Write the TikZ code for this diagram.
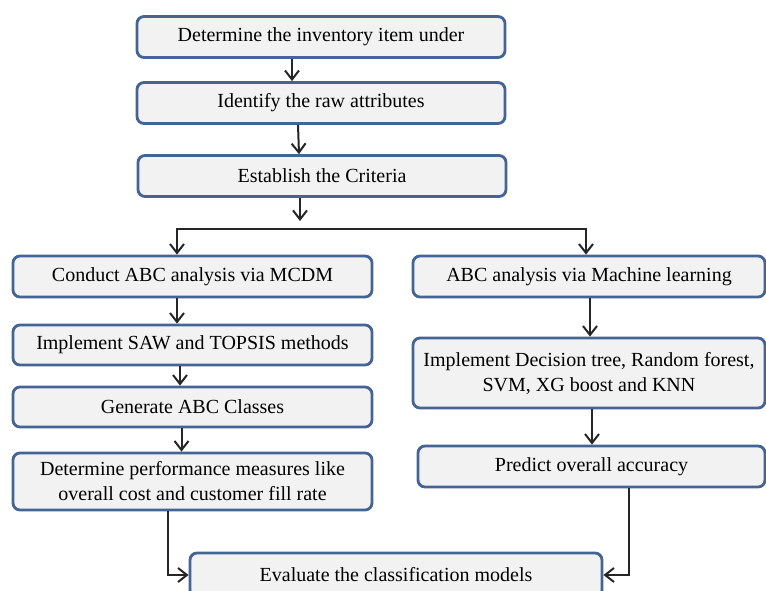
\documentclass[tikz,border=0pt]{standalone}
\usepackage{fontspec}
\setmainfont{Liberation Serif}
\usetikzlibrary{arrows.meta}
\definecolor{boxblue}{RGB}{68,100,150}
\definecolor{boxfill}{RGB}{242,242,242}

\begin{document}
\begin{tikzpicture}[
    x=1pt, y=-1pt,
    box/.style={draw=boxblue, fill=boxfill, line width=2.8pt, rounded corners=7pt,
        inner sep=0pt, align=center, font=\fontsize{20}{25}\selectfont},
    wide/.style={box, minimum width=368pt, minimum height=41pt},
    half/.style={box, minimum width=359pt, minimum height=41pt},
    flow/.style={-{Straight Barb[length=9pt,width=14pt,line width=2pt]}, line width=2pt, black!85}
]
\useasboundingbox (0,0) rectangle (766,590);

% Common steps
\node[wide] (item) at (321,37) {Determine the inventory item under};
\node[wide] (attr) at (321,103) {Identify the raw attributes};
\node[wide] (crit) at (322,176) {Establish the Criteria};

% MCDM branch
\node[half] (mcdm) at (192.5,276.5) {Conduct ABC analysis via MCDM};
\node[half, minimum height=40pt] (saw) at (192.5,345) {Implement SAW and TOPSIS methods};
\node[half, minimum height=40pt] (cls) at (192.5,407) {Generate ABC Classes};
\node[half, minimum height=57pt] (perf) at (192.5,481.5) {Determine performance measures like\\overall cost and customer fill rate};

% Machine learning branch
\node[box, minimum width=352pt, minimum height=41pt] (ml) at (589,276.5) {ABC analysis via Machine learning};
\node[box, minimum width=352pt, minimum height=70pt] (algo) at (589,373) {Implement Decision tree, Random forest,\\SVM, XG boost and KNN};
\node[box, minimum width=347pt, minimum height=41pt] (acc) at (591.5,466.5) {Predict overall accuracy};

% Final step
\node[box, minimum width=412pt, minimum height=44pt] (eval) at (396,575) {Evaluate the classification models};

% Connections
\coordinate (split) at (300,221);
\coordinate (branch) at (300,229);
\draw[flow] ([xshift=-29pt]item.south) -- ([xshift=-29pt]attr.north);
\draw[flow] ([xshift=-23pt]attr.south) -- ([xshift=-23pt]crit.north);
\draw[flow] ([xshift=-22pt]crit.south) -- (split);
\draw[flow] (branch) -| ([xshift=-15.5pt]mcdm.north);
\draw[flow] (branch) -| ([xshift=-3pt]ml.north);

\draw[flow] ([xshift=-15.5pt]mcdm.south) -- ([xshift=-15.5pt]saw.north);
\draw[flow] ([xshift=-12.5pt]saw.south) -- ([xshift=-12.5pt]cls.north);
\draw[flow] ([xshift=-11pt]cls.south) -- ([xshift=-11pt]perf.north);
\draw[flow] ([xshift=1pt]ml.south) -- ([xshift=1pt]algo.north);
\draw[flow] ([xshift=3pt]algo.south) -- ([xshift=0.5pt]acc.north);

\draw[flow] ([xshift=-24.5pt]perf.south) |- (eval.west);
\draw[flow] ([xshift=37.5pt]acc.south) |- (eval.east);

\end{tikzpicture}
\end{document}
